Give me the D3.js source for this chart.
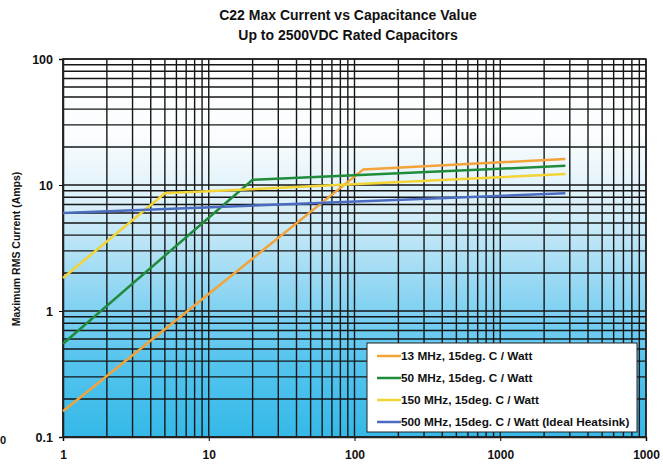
<!DOCTYPE html>
<html>
<head>
<meta charset="utf-8">
<script src="https://cdn.jsdelivr.net/npm/d3@7"></script>
<style>
  body { margin: 0; background: #fff; }
  svg { display: block; font-family: "Liberation Sans", Arial, sans-serif; }
</style>
</head>
<body>
<div id="chart"></div>
<script>
// chart values
const SERIES_NAMES = ["13 MHz, 15deg. C / Watt", "50 MHz, 15deg. C / Watt",
                      "150 MHz, 15deg. C / Watt", "500 MHz, 15deg. C / Watt (Ideal Heatsink)"];
const SERIES_COLORS = ["#f2a33a", "#1f8b3b", "#f3d435", "#4a6cc0"];
const CAP_13 = [1, 115, 2800];
const AMPS_13 = [0.16, 13.3, 16.1];
const CAP_50 = [1, 20, 2800];
const AMPS_50 = [0.55, 11.0, 14.2];
const CAP_150 = [1, 5, 2800];
const AMPS_150 = [1.83, 8.6, 12.2];
const CAP_500 = [1, 2800];
const AMPS_500 = [6.0, 8.6];
const X_TICK_VALUES = [1, 10, 100, 1000, 10000];
const X_TICK_LABELS = ["1", "10", "100", "1000", "1000"];
const Y_TICK_VALUES = [0.1, 1, 10, 100];
const Y_TICK_LABELS = ["0.1", "1", "10", "100"];

const FRAME_WIDTH = 663;
const FRAME_HEIGHT = 467;
const MARGINS = {left: 63, right: 17, top: 59, bottom: 30};

const FRAME = d3.select("#chart")
                .append("svg")
                  .attr("width", FRAME_WIDTH)
                  .attr("height", FRAME_HEIGHT);

const X_SCALE = d3.scaleLog()
                  .domain([1, 10000])
                  .range([MARGINS.left, FRAME_WIDTH - MARGINS.right]);
const Y_SCALE = d3.scaleLog()
                  .domain([0.1, 100])
                  .range([FRAME_HEIGHT - MARGINS.bottom, MARGINS.top]);

// background gradient
const grad = FRAME.append("defs").append("linearGradient")
                  .attr("id", "bg").attr("x1", 0).attr("x2", 0).attr("y1", 0).attr("y2", 1);
[[0, "#ffffff"], [0.2, "#fbfdfe"], [0.4, "#d6eef9"], [0.6, "#94d7f3"],
 [0.8, "#55c4ee"], [1, "#35b9e8"]].forEach(s => {
  grad.append("stop").attr("offset", s[0]).attr("stop-color", s[1]);
});

FRAME.append("rect")
     .attr("x", X_SCALE(1)).attr("y", Y_SCALE(100))
     .attr("width", X_SCALE(10000) - X_SCALE(1))
     .attr("height", Y_SCALE(0.1) - Y_SCALE(100))
     .attr("fill", "url(#bg)");

// grid
FRAME.append("g")
     .selectAll("line")
     .data(X_SCALE.ticks())
     .enter().append("line")
       .attr("x1", d => X_SCALE(d)).attr("x2", d => X_SCALE(d))
       .attr("y1", Y_SCALE(100)).attr("y2", Y_SCALE(0.1))
       .attr("stroke", "#161616").attr("stroke-width", 1.4);

FRAME.append("g")
     .selectAll("line")
     .data(Y_SCALE.ticks())
     .enter().append("line")
       .attr("x1", X_SCALE(1)).attr("x2", X_SCALE(10000))
       .attr("y1", d => Y_SCALE(d)).attr("y2", d => Y_SCALE(d))
       .attr("stroke", "#161616").attr("stroke-width", 1.4);

// axes
FRAME.append("g")
     .attr("transform", "translate(0," + Y_SCALE(0.1) + ")")
     .call(d3.axisBottom(X_SCALE).tickValues(X_TICK_VALUES)
             .tickFormat((d, i) => X_TICK_LABELS[i]).tickSize(4).tickPadding(9))
     .call(g => g.select(".domain").attr("stroke", "#222").attr("stroke-width", 1.5))
     .call(g => g.selectAll("text").attr("font-size", 12).attr("font-weight", "bold")
                 .attr("fill", "#111").attr("font-family", "Liberation Sans, Arial, sans-serif"));

FRAME.append("g")
     .attr("transform", "translate(" + X_SCALE(1) + ",0)")
     .call(d3.axisLeft(Y_SCALE).tickValues(Y_TICK_VALUES)
             .tickFormat((d, i) => Y_TICK_LABELS[i]).tickSize(4).tickPadding(6))
     .call(g => g.select(".domain").attr("stroke", "#222").attr("stroke-width", 1.5))
     .call(g => g.selectAll("text").attr("font-size", 12.5).attr("font-weight", "bold")
                 .attr("fill", "#111").attr("font-family", "Liberation Sans, Arial, sans-serif"));

// border
FRAME.append("rect")
     .attr("x", X_SCALE(1)).attr("y", Y_SCALE(100))
     .attr("width", X_SCALE(10000) - X_SCALE(1))
     .attr("height", Y_SCALE(0.1) - Y_SCALE(100))
     .attr("fill", "none").attr("stroke", "#222").attr("stroke-width", 1.5);

// series
const SERIES = [
  {xs: CAP_13, ys: AMPS_13},
  {xs: CAP_50, ys: AMPS_50},
  {xs: CAP_150, ys: AMPS_150},
  {xs: CAP_500, ys: AMPS_500}
];
const LINE = d3.line().x(d => X_SCALE(d[0])).y(d => Y_SCALE(d[1]));

SERIES.forEach((s, i) => {
  FRAME.append("path")
       .datum(s.xs.map((x, j) => [x, s.ys[j]]))
       .attr("d", LINE)
       .attr("fill", "none")
       .attr("stroke", SERIES_COLORS[i])
       .attr("stroke-width", 2.5);
});

// legend
const LEG = FRAME.append("g");
LEG.append("rect")
   .attr("x", 367).attr("y", 343).attr("width", 270).attr("height", 89)
   .attr("fill", "#fff").attr("stroke", "#222").attr("stroke-width", 1);
SERIES_NAMES.forEach((name, i) => {
  const yy = 356 + i * 22;
  LEG.append("line")
     .attr("x1", 377).attr("x2", 401).attr("y1", yy).attr("y2", yy)
     .attr("stroke", SERIES_COLORS[i]).attr("stroke-width", 2.5);
  LEG.append("text")
     .attr("x", 401).attr("y", yy + 4)
     .attr("font-size", 11.8).attr("font-weight", "bold").attr("fill", "#111")
     .attr("textLength", null)
     .text(name);
});

// titles
FRAME.append("text")
     .attr("x", 348).attr("y", 20).attr("text-anchor", "middle")
     .attr("font-size", 14).attr("font-weight", "bold").attr("fill", "#111")
     .text("C22 Max Current vs Capacitance Value");
FRAME.append("text")
     .attr("x", 348).attr("y", 40).attr("text-anchor", "middle")
     .attr("font-size", 14).attr("font-weight", "bold").attr("fill", "#111")
     .text("Up to 2500VDC Rated Capacitors");

FRAME.append("text")
     .attr("transform", "translate(20,249) rotate(-90)")
     .attr("text-anchor", "middle")
     .attr("font-size", 10.5).attr("font-weight", "bold").attr("fill", "#111")
     .text("Maximum RMS Current (Amps)");

FRAME.append("text")
     .attr("x", 0).attr("y", 444)
     .attr("font-size", 11).attr("font-weight", "bold").attr("fill", "#111")
     .text("0");
</script>
</body>
</html>
